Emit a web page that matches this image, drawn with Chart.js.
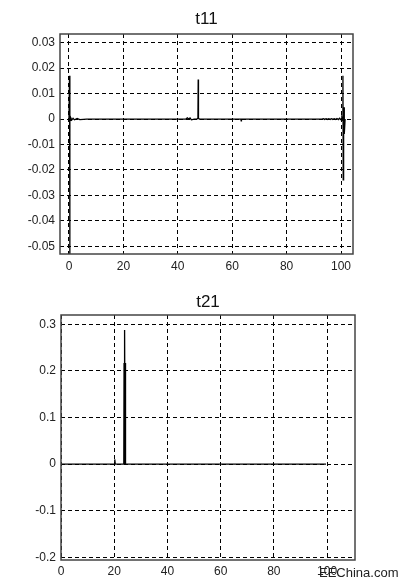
<!DOCTYPE html>
<html>
<head>
<meta charset="utf-8">
<script src="https://cdn.jsdelivr.net/npm/chart.js@4"></script>
<style>
  html, body { margin: 0; padding: 0; background: #fff; }
  #page { position: relative; width: 402px; height: 587px; overflow: hidden; }
  .box { position: absolute; left: 0; width: 402px; }
  #wm { position: absolute; left: 319px; top: 565px; font: 13px "Liberation Sans", Arial, sans-serif; color: #222; white-space: nowrap; }
</style>
</head>
<body>
<div id="page">
  <div class="box" style="top:0;height:290px"><canvas id="c1"></canvas></div>
  <div class="box" style="top:290px;height:297px"><canvas id="c2"></canvas></div>
  <div id="wm">EEChina.com</div>
</div>
<script>
// t11 trace (time vs value)
const t11X = [0, 0.2, 0.3, 0.35, 0.5, 0.7, 1, 1.5, 2, 3, 4, 6.5, 43, 43.5, 44, 44.5, 45, 46, 47, 47.4, 47.5, 47.6, 47.9, 48.3, 63.2, 63.3, 63.4,
  93, 93.5, 94, 94.5, 95, 95.5, 96, 96.5, 97, 97.5, 98, 98.5, 99, 99.5, 100, 100.3, 100.6, 100.7, 100.8, 100.9, 101, 101.1, 101.2, 101.5]
const t11Y = [0, 0.017, -0.053, 0.0005, -0.0005, 0.0004, -0.0004, 0.0003, -0.0003, 0.0002, -0.0002, 0, 0, 0.0005, 0, 0.0004, -0.0003, 0, 0, 0.0003, 0.0155, 0.0003, 0, 0, 0, -0.0007, 0,
  0, 0.00015, -0.00015, 0.00015, -0.00015, 0.00015, -0.00015, 0.00015, -0.00015, 0.00015, -0.00015, 0.0002, -0.0002, 0.0003, -0.0003, 0.0005, -0.0005, 0.017, -0.0239, 0.0046, -0.0059, 0.0046, -0.0059, 0]
const t11XTicks = [0, 20, 40, 60, 80, 100]
const t11YTicks = [0.03, 0.02, 0.01, 0, -0.01, -0.02, -0.03, -0.04, -0.05]

// t21 trace
const t21X = [0, 20, 20.2, 20.4, 23.6, 23.7, 23.8, 23.9, 24.0, 24.1, 24.2, 24.3, 24.5, 99.6]
const t21Y = [0, 0, 0.01, 0, 0, 0.217, 0, 0.217, 0.288, 0, 0.217, 0, 0, 0]
const t21XTicks = [0, 20, 40, 60, 80, 100]
const t21YTicks = [0.3, 0.2, 0.1, 0, -0.1, -0.2]

const FONT = '"Liberation Sans", Arial, sans-serif'

// draws the grey frame round the plot area
const framePlugin = {
  id: 'frame',
  afterDraw(chart) {
    const a = chart.chartArea
    const ctx = chart.ctx
    ctx.save()
    ctx.strokeStyle = '#444'
    ctx.lineWidth = 1.5
    ctx.strokeRect(a.left, a.top, a.right - a.left, a.bottom - a.top)
    ctx.restore()
  }
}

function makeChart(id, opts) {
  const points = opts.xs.map((x, i) => ({ x: x, y: opts.ys[i] }))
  const fmt = v => String(+v.toFixed(2))
  return new Chart(document.getElementById(id), {
    type: 'scatter',
    data: {
      datasets: [{
        data: points,
        showLine: true,
        borderColor: '#000',
        borderWidth: 1.3,
        pointRadius: 0,
        tension: 0
      }]
    },
    options: {
      responsive: true,
      maintainAspectRatio: false,
      animation: false,
      layout: { padding: { left: 0, right: opts.padRight, top: 0, bottom: 0 } },
      plugins: {
        legend: { display: false },
        tooltip: { enabled: false },
        title: {
          display: true,
          text: opts.title,
          fullSize: false,
          color: '#111',
          font: { family: FONT, size: 17, weight: 'normal' },
          padding: { top: opts.titleTop, bottom: opts.titleBottom }
        }
      },
      scales: {
        x: {
          type: 'linear',
          min: opts.xMin,
          max: opts.xMax,
          afterBuildTicks: s => { s.ticks = opts.xTicks.map(v => ({ value: v })) },
          afterFit: s => { s.height = opts.xAxisH },
          grid: { color: '#000', lineWidth: 1, drawTicks: false },
          border: { display: false, dash: [4, 3] },
          ticks: { color: '#222', font: { family: FONT, size: 12 }, padding: opts.xPad, maxRotation: 0, callback: v => String(v) }
        },
        y: {
          type: 'linear',
          min: opts.yMin,
          max: opts.yMax,
          afterBuildTicks: s => { s.ticks = opts.yTicks.map(v => ({ value: v })) },
          afterFit: s => { s.width = opts.yAxisW },
          grid: { color: '#000', lineWidth: 1, drawTicks: false },
          border: { display: false, dash: [4, 3] },
          ticks: { color: '#222', font: { family: FONT, size: 12 }, padding: 5, callback: fmt }
        }
      }
    },
    plugins: [framePlugin]
  })
}

makeChart('c1', {
  title: 't11', xs: t11X, ys: t11Y, xTicks: t11XTicks, yTicks: t11YTicks,
  xMin: -3.3, xMax: 104.4, yMin: -0.053, yMax: 0.0334,
  padRight: 49, yAxisW: 60, xAxisH: 36, xPad: 5, titleTop: 8.8, titleBottom: 4.8
})

makeChart('c2', {
  title: 't21', xs: t21X, ys: t21Y, xTicks: t21XTicks, yTicks: t21YTicks,
  xMin: 0, xMax: 110.5, yMin: -0.206, yMax: 0.32,
  padRight: 47, yAxisW: 61, xAxisH: 27, xPad: 4, titleTop: 1.8, titleBottom: 2.8
})
</script>
</body>
</html>
